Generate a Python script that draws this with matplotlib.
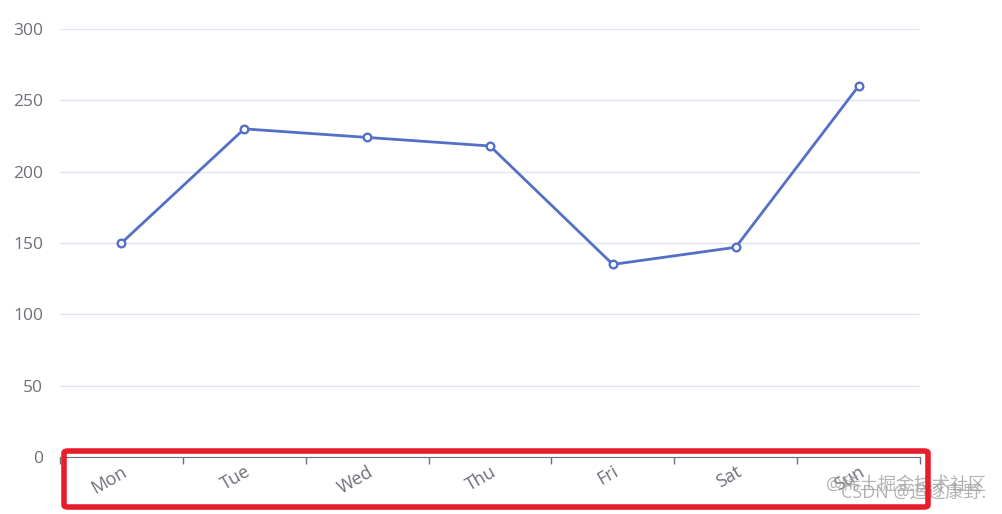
import matplotlib.pyplot as plt
from matplotlib.patches import FancyBboxPatch
import numpy as np

days = ['Mon', 'Tue', 'Wed', 'Thu', 'Fri', 'Sat', 'Sun']
values = [150, 230, 224, 218, 135, 147, 260]
y_ticks = [0, 50, 100, 150, 200, 250, 300]

plt.rcParams['font.family'] = ['Open Sans', 'Noto Sans CJK SC', 'DejaVu Sans']

W, H = 1003, 514
fig = plt.figure(figsize=(W / 100, H / 100), dpi=100)
ax = fig.add_axes([60 / W, (H - 457) / H, 860 / W, 428 / H])

x = np.arange(len(days))
ax.plot(x, values, color='#5470c6', linewidth=2.0, marker='o', markersize=5.5,
        markerfacecolor='white', markeredgecolor='#5470c6', markeredgewidth=1.7,
        zorder=3)

ax.set_xlim(-0.5, len(days) - 0.5)
ax.set_ylim(0, 300)
ax.set_yticks(y_ticks)
ax.set_yticklabels([str(v) for v in y_ticks])
ax.grid(True, axis='y', color='#e0e6f1', linewidth=1)
ax.set_axisbelow(True)

# category labels at centers, ticks at boundaries
ax.set_xticks(x)
ax.set_xticklabels(days, rotation=30, fontsize=13, color='#6e7079',
                   ha='right', rotation_mode='anchor')
ax.tick_params(axis='x', length=0, pad=4)
ax.set_xticks(np.arange(-0.5, len(days)), minor=True)
ax.tick_params(axis='x', which='minor', length=5, color='#6e7079', width=1)
ax.tick_params(axis='y', length=0, labelsize=12.5, labelcolor='#6e7079', pad=12)

for s in ['top', 'right', 'left']:
    ax.spines[s].set_visible(False)
ax.spines['bottom'].set_color('#6e7079')

# red highlight box around x-axis labels
box = FancyBboxPatch((64 / W, (H - 507) / H), 864 / W, 56 / H,
                     boxstyle='round,pad=0,rounding_size=0.004',
                     transform=fig.transFigure, fill=False,
                     edgecolor='#e81c2a', linewidth=4, zorder=10)
fig.patches.append(box)

# watermarks
fig.text(986 / W, (H - 485) / H, '@稀土掘金技术社区', ha='right', va='center',
         fontsize=13, color='#a0a0a0', alpha=0.8)
fig.text(986 / W, (H - 493) / H, 'CSDN @追逐康野.', ha='right', va='center',
         fontsize=13, color='#a0a0a0', alpha=0.8)

fig.savefig('out.png', dpi=100)
